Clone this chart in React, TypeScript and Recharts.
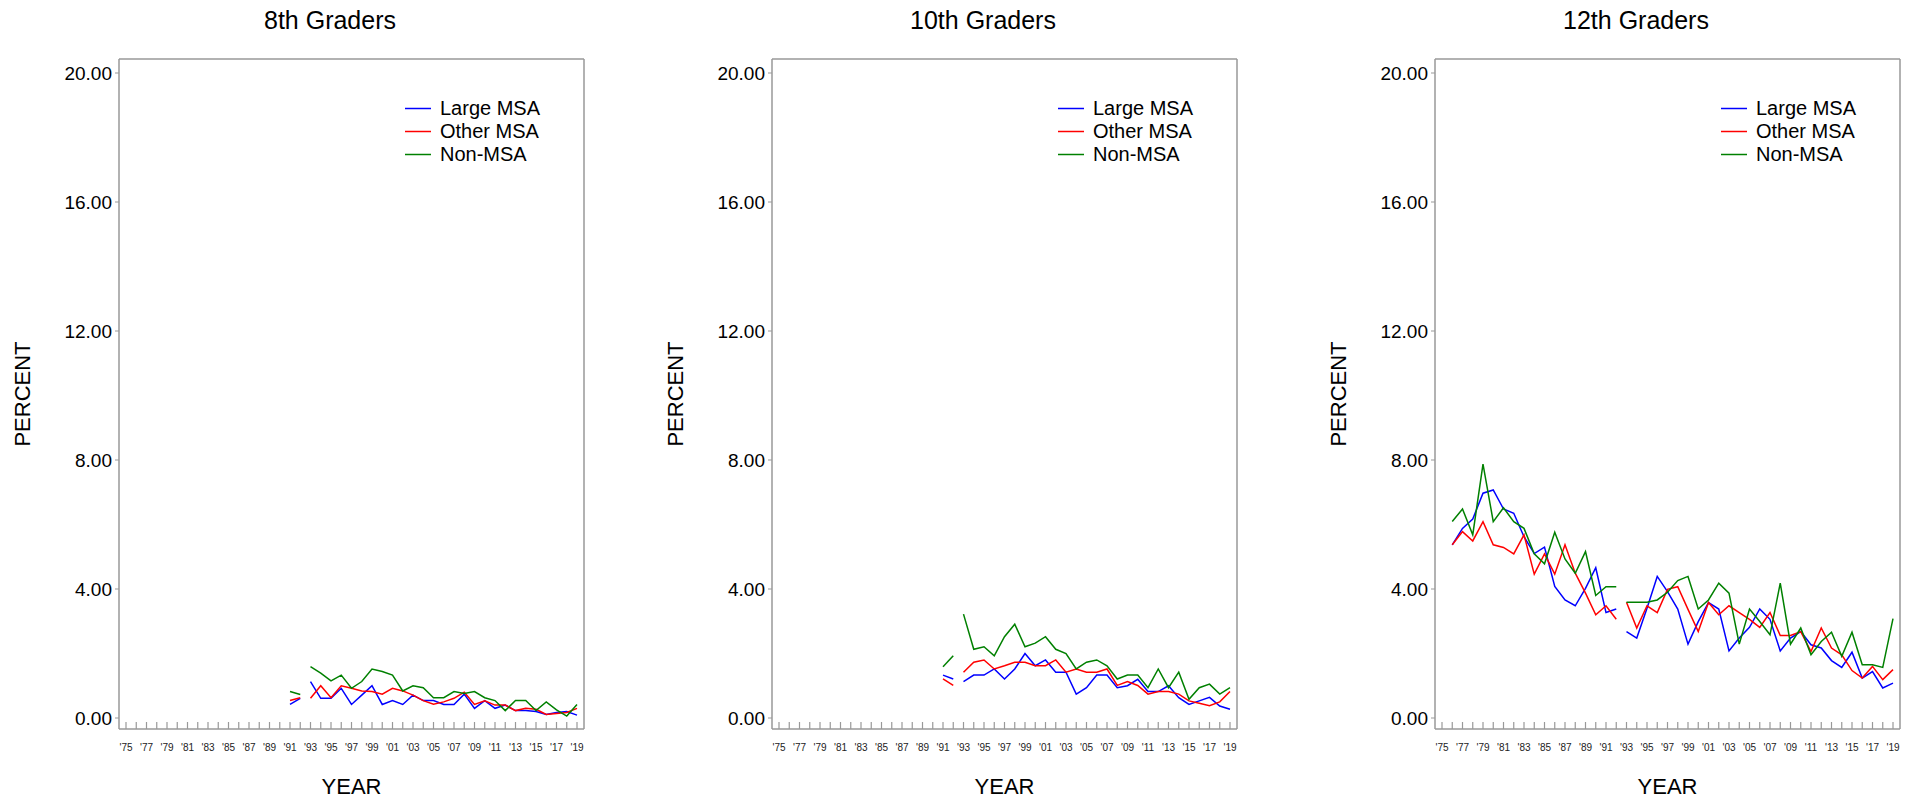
import React from 'react';
import { LineChart, Line, XAxis, YAxis, Legend, Label } from 'recharts';

// years on the x axis, every year gets a tick, odd years get a label
const years = [
  1975, 1976, 1977, 1978, 1979, 1980, 1981, 1982, 1983, 1984, 1985, 1986, 1987, 1988, 1989,
  1990, 1991, 1992, 1993, 1994, 1995, 1996, 1997, 1998, 1999, 2000, 2001, 2002, 2003, 2004,
  2005, 2006, 2007, 2008, 2009, 2010, 2011, 2012, 2013, 2014, 2015, 2016, 2017, 2018, 2019,
];
const yTicks = [0, 4, 8, 12, 16, 20];
// lines are broken between 1992 and 1993
const breakYear = 1993;

// 8th graders, 1991-2019
const start8 = 1991;
const large8 = [0.42, 0.61, 1.13, 0.61, 0.61, 0.92, 0.42, 0.71, 1.0, 0.42, 0.54, 0.42, 0.71, 0.54, 0.54, 0.42, 0.42, 0.74, 0.3, 0.54, 0.3, 0.4, 0.23, 0.23, 0.2, 0.11, 0.17, 0.2, 0.09];
const other8 = [0.54, 0.63, 0.61, 1.0, 0.63, 1.0, 0.92, 0.84, 0.82, 0.74, 0.92, 0.84, 0.71, 0.54, 0.43, 0.5, 0.61, 0.8, 0.42, 0.53, 0.4, 0.4, 0.23, 0.3, 0.27, 0.11, 0.14, 0.17, 0.3];
const non8 = [0.82, 0.73, 1.59, 1.39, 1.15, 1.33, 0.92, 1.13, 1.52, 1.44, 1.33, 0.84, 1.0, 0.94, 0.63, 0.63, 0.82, 0.76, 0.82, 0.63, 0.54, 0.23, 0.54, 0.54, 0.23, 0.5, 0.25, 0.06, 0.42];

// 10th graders, 1991-2019
const start10 = 1991;
const large10 = [1.33, 1.21, 1.13, 1.33, 1.33, 1.52, 1.21, 1.52, 2.0, 1.62, 1.8, 1.42, 1.42, 0.74, 0.94, 1.33, 1.33, 0.94, 1.0, 1.2, 0.82, 0.82, 1.0, 0.63, 0.42, 0.53, 0.64, 0.37, 0.27];
const other10 = [1.21, 1.01, 1.42, 1.73, 1.8, 1.52, 1.62, 1.73, 1.73, 1.62, 1.62, 1.8, 1.42, 1.52, 1.42, 1.42, 1.52, 1.01, 1.13, 1.01, 0.74, 0.82, 0.82, 0.74, 0.53, 0.46, 0.38, 0.5, 0.82];
const non10 = [1.59, 1.93, 3.22, 2.13, 2.21, 1.93, 2.52, 2.91, 2.21, 2.32, 2.52, 2.13, 2.0, 1.52, 1.73, 1.8, 1.62, 1.21, 1.33, 1.33, 0.94, 1.52, 0.94, 1.42, 0.58, 0.94, 1.05, 0.74, 0.94];

// 12th graders, 1976-2019
const start12 = 1976;
const large12 = [5.37, 5.88, 6.17, 6.97, 7.07, 6.48, 6.35, 5.62, 5.1, 5.3, 4.08, 3.66, 3.48, 4.02, 4.66, 3.27, 3.38, 2.68, 2.48, 3.4, 4.39, 3.92, 3.38, 2.29, 2.99, 3.58, 3.38, 2.08, 2.48, 2.81, 3.38, 3.06, 2.08, 2.48, 2.68, 2.27, 2.17, 1.78, 1.57, 2.04, 1.24, 1.44, 0.93, 1.08];
const other12 = [5.37, 5.78, 5.49, 6.09, 5.37, 5.29, 5.09, 5.68, 4.46, 5.09, 4.46, 5.37, 4.49, 3.87, 3.2, 3.48, 3.06, 3.59, 2.79, 3.48, 3.27, 3.99, 4.07, 3.37, 2.68, 3.58, 3.2, 3.48, 3.27, 3.06, 2.81, 3.27, 2.56, 2.56, 2.68, 2.06, 2.79, 2.17, 1.96, 1.47, 1.24, 1.6, 1.19, 1.5];
const non12 = [6.09, 6.48, 5.68, 7.87, 6.09, 6.52, 6.09, 5.88, 5.09, 4.78, 5.76, 4.93, 4.49, 5.16, 3.8, 4.07, 4.07, 3.59, 3.59, 3.59, 3.66, 3.9, 4.26, 4.39, 3.38, 3.66, 4.18, 3.87, 2.29, 3.38, 2.99, 2.58, 4.18, 2.29, 2.79, 1.96, 2.37, 2.66, 1.91, 2.66, 1.65, 1.65, 1.57, 3.08];

const FONT = '"Liberation Sans", Arial, sans-serif';
const FRAME = '#999999';

function buildRows(start: number, large: number[], other: number[], non: number[]) {
  return years.map((year) => {
    const i = year - start;
    const get = (arr: number[]) => (i >= 0 && i < arr.length ? arr[i] : null);
    const early = year < breakYear;
    return {
      year,
      largeA: early ? get(large) : null,
      largeB: early ? null : get(large),
      otherA: early ? get(other) : null,
      otherB: early ? null : get(other),
      nonA: early ? get(non) : null,
      nonB: early ? null : get(non),
    };
  });
}

const panels = [
  { title: '8th Graders', left: 0, titleX: 330, rows: buildRows(start8, large8, other8, non8) },
  { title: '10th Graders', left: 653, titleX: 983, rows: buildRows(start10, large10, other10, non10) },
  { title: '12th Graders', left: 1316, titleX: 1636, rows: buildRows(start12, large12, other12, non12) },
];

const series = [
  { key: 'large', name: 'Large MSA', color: '#0000ff' },
  { key: 'other', name: 'Other MSA', color: '#ff0000' },
  { key: 'non', name: 'Non-MSA', color: '#008000' },
];

const YearTick = (props: any) => {
  const { x, y, payload } = props;
  const yr = payload.value as number;
  return (
    <g>
      <line x1={x} x2={x} y1={y - 7} y2={y} stroke={FRAME} strokeWidth={1.2} />
      {yr % 2 === 1 && (
        <text x={x} y={y + 22} textAnchor="middle" fontSize={10} fill="#222" fontFamily={FONT}>
          {`'${String(yr).slice(2)}`}
        </text>
      )}
    </g>
  );
};

const renderLegend = (props: any) => {
  const payload = props.payload || [];
  // keep the order of the series list, not the alphabetical one
  const items = series
    .map((s) => payload.find((p: any) => p.value === s.name))
    .filter(Boolean);
  return (
    <div style={{ fontFamily: FONT, fontSize: 20, color: '#000' }}>
      {items.map((p: any) => (
        <div key={p.value} style={{ display: 'flex', alignItems: 'center', height: 23, whiteSpace: 'nowrap' }}>
          <svg width={35} height={23}>
            <line x1={0} x2={26} y1={11.5} y2={11.5} stroke={p.color} strokeWidth={1.5} />
          </svg>
          <span>{p.value}</span>
        </div>
      ))}
    </div>
  );
};

const CHART_W = 589;
const CHART_H = 800;

const Panel = ({ title, left, titleX, rows }: any) => (
  <>
    <div
      style={{
        position: 'absolute', left: titleX - 150, top: 5, width: 300, lineHeight: '30px',
        textAlign: 'center', fontFamily: FONT, fontSize: 25, color: '#000',
      }}
    >
      {title}
    </div>
    <div style={{ position: 'absolute', left, top: 0 }}>
      <LineChart width={CHART_W} height={CHART_H} data={rows} margin={{ top: 58, right: 4, bottom: 0, left: 0 }}>
        <XAxis
          dataKey="year" type="number" domain={[1975, 2019]} ticks={years} interval={0}
          padding={{ left: 7, right: 7 }} height={71} tickSize={0} tickMargin={0} tickLine={false}
          axisLine={{ stroke: FRAME, strokeWidth: 1.5 }} tick={<YearTick />}
        >
          <Label
            content={(p: any) => (
              <text x={p.viewBox.x + p.viewBox.width / 2} y={794} textAnchor="middle" fontSize={22} fontFamily={FONT} fill="#000">
                YEAR
              </text>
            )}
          />
        </XAxis>
        <XAxis xAxisId="top" orientation="top" type="number" dataKey="year" domain={[1975, 2019]}
          height={1} tick={false} tickLine={false} axisLine={{ stroke: FRAME, strokeWidth: 1.5 }} />
        <YAxis
          domain={[0, 20]} ticks={yTicks} interval={0} width={119} padding={{ top: 14, bottom: 11 }}
          tickSize={4} tickMargin={3} tickFormatter={(v: number) => v.toFixed(2)}
          tickLine={{ stroke: FRAME }} axisLine={{ stroke: FRAME, strokeWidth: 1.5 }}
          tick={{ fontSize: 19, fill: '#000', fontFamily: FONT }}
        >
          <Label
            content={() => (
              <text x={22} y={394} transform="rotate(-90 22 394)" textAnchor="middle" dominantBaseline="central"
                fontSize={22} fontFamily={FONT} fill="#000">
                PERCENT
              </text>
            )}
          />
        </YAxis>
        <YAxis yAxisId="right" orientation="right" domain={[0, 20]} width={1} tick={false} tickLine={false}
          axisLine={{ stroke: FRAME, strokeWidth: 1.5 }} />
        <Legend
          layout="vertical" align="center" verticalAlign="middle" content={renderLegend}
          wrapperStyle={{ left: 584 - 179, top: 97, width: 'auto', height: 'auto' }}
        />
        {series.map((s) => (
          <Line key={s.key + 'A'} dataKey={s.key + 'A'} name={s.name} stroke={s.color} strokeWidth={1.5}
            dot={false} isAnimationActive={false} connectNulls={false} />
        ))}
        {series.map((s) => (
          <Line key={s.key + 'B'} dataKey={s.key + 'B'} name={s.name + ' '} stroke={s.color} strokeWidth={1.5}
            dot={false} isAnimationActive={false} connectNulls={false} legendType="none" />
        ))}
      </LineChart>
    </div>
  </>
);

export default function App() {
  return (
    <div style={{ position: 'absolute', left: 0, top: 0, width: 1915, height: 800, background: '#fff' }}>
      {panels.map((p) => (
        <Panel key={p.title} {...p} />
      ))}
    </div>
  );
}
